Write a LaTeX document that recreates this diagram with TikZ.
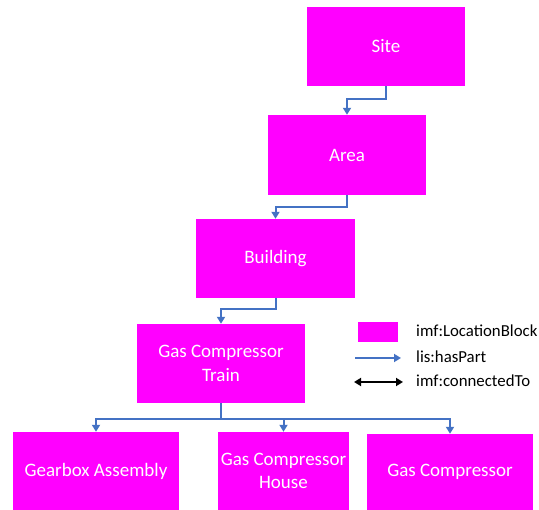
\documentclass[tikz,border=0pt]{standalone}
\usepackage{fontspec}
\setmainfont{Carlito}
\usetikzlibrary{arrows.meta}
\definecolor{boxmag}{HTML}{FF00FF}
\definecolor{linkblue}{HTML}{4472C4}
\begin{document}
\begin{tikzpicture}[x=1pt,y=-1pt,
  block/.style={fill=boxmag,draw=none,text=white,align=center,inner sep=0pt,
    font=\fontsize{19}{23.5}\selectfont},
  haspart/.style={draw=linkblue,line width=2pt,-{Triangle[width=8pt,length=7pt]}},
  conn/.style={draw=black,line width=2pt,{Triangle[width=8pt,length=7pt]}-{Triangle[width=8pt,length=7pt]}},
  legtext/.style={anchor=west,inner sep=0pt,font=\fontsize{16.8}{20}\selectfont}]
\useasboundingbox (0,0) rectangle (539,510);
\node[block,minimum width=158pt,minimum height=79pt] (site) at (386,46.5) {Site};
\node[block,minimum width=158pt,minimum height=80pt] (area) at (347,155) {Area};
\node[block,minimum width=159pt,minimum height=79pt] (building) at (275.5,258.5) {Building};
\node[block,minimum width=168pt,minimum height=79pt] (train) at (221,363.5) {Gas Compressor\\Train};
\node[block,minimum width=166pt,minimum height=78pt] (gearbox) at (96,471) {Gearbox Assembly};
\node[block,minimum width=131pt,minimum height=78pt] (house) at (283.5,471) {Gas Compressor\\House};
\node[block,minimum width=166pt,minimum height=76pt] (gc) at (450,472) {Gas Compressor};

\draw[haspart] (site.south) -- ++(0,13) -| (area.north);
\draw[haspart] (area.south) -- ++(0,12) -| (building.north);
\draw[haspart] (building.south) -- ++(0,11) -| (train.north);
\draw[haspart] (train.south) -- ++(0,16) -| (gearbox.north);
\draw[haspart] (train.south) -- ++(0,16) -| (house.north);
\draw[haspart] (train.south) -- ++(0,16) -| (gc.north);

% legend
\node[fill=boxmag,minimum width=40pt,minimum height=20pt,inner sep=0pt] (legbox) at (378,332) {};
\node[legtext] (legt1) at (416,331) {imf:LocationBlock};
\coordinate (ha) at (355,358);
\coordinate (hb) at (401,358);
\draw[haspart] (ha) -- (hb);
\node[legtext] (legt2) at (416,357) {lis:hasPart};
\coordinate (ca) at (354,382);
\coordinate (cb) at (403,382);
\draw[conn] (ca) -- (cb);
\node[legtext] (legt3) at (416,381) {imf:connectedTo};
\end{tikzpicture}
\end{document}
